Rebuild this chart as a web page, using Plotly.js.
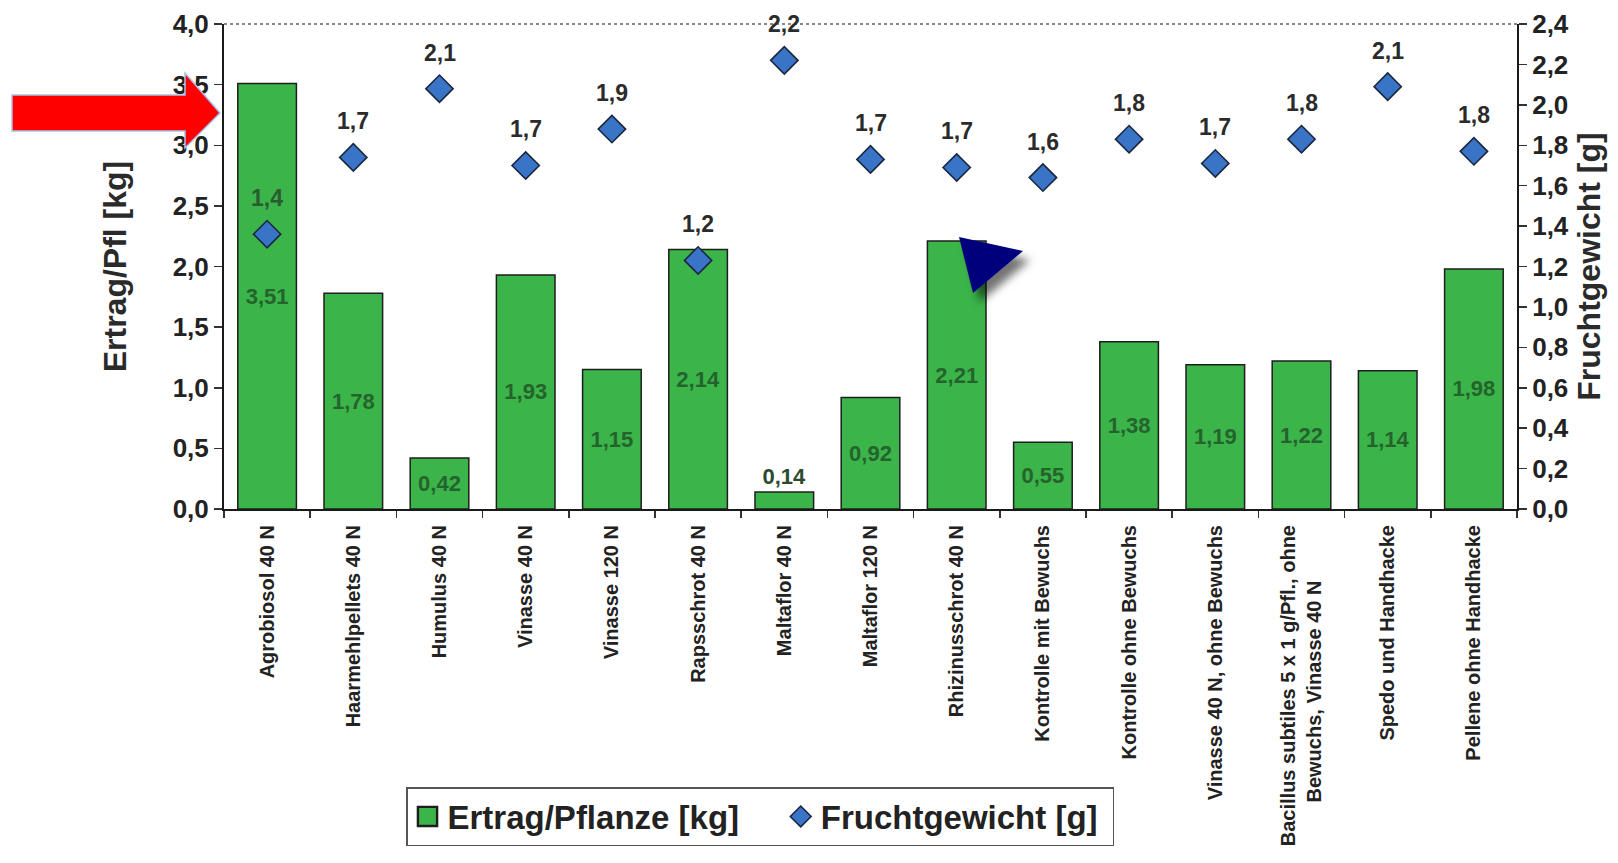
<!DOCTYPE html>
<html>
<head>
<meta charset="utf-8">
<script src="https://cdn.plot.ly/plotly-3.0.1.min.js"></script>
<style>
  html, body { margin: 0; padding: 0; background: #ffffff; }
  #chart { width: 1618px; height: 863px; }
</style>
</head>
<body>
<div id="chart"></div>
<script>
// Treatments (x categories)
const categories = [
  'Agrobiosol 40 N',
  'Haarmehlpellets 40 N',
  'Humulus 40 N',
  'Vinasse 40 N',
  'Vinasse 120 N',
  'Rapsschrot 40 N',
  'Maltaflor 40 N',
  'Maltaflor 120 N',
  'Rhizinusschrot 40 N',
  'Kontrolle mit Bewuchs',
  'Kontrolle ohne Bewuchs',
  'Vinasse 40 N, ohne Bewuchs',
  'Bacillus subtiles 5 x 1 g/Pfl., ohne<br>Bewuchs, Vinasse 40 N\u00a0\u00a0\u00a0\u00a0\u00a0\u00a0\u00a0\u00a0\u00a0\u00a0',
  'Spedo und Handhacke',
  'Pellene ohne Handhacke'
];

// Yield per plant [kg] (left axis)
const ertragKg = [3.51, 1.78, 0.42, 1.93, 1.15, 2.14, 0.14, 0.92, 2.21, 0.55, 1.38, 1.19, 1.22, 1.14, 1.98];

// Fruit weight [g] (right axis)
const fruchtgewichtG = [1.36, 1.74, 2.08, 1.70, 1.88, 1.23, 2.22, 1.73, 1.69, 1.64, 1.83, 1.71, 1.83, 2.09, 1.77];

const seriesNames = ['Ertrag/Pflanze [kg]', 'Fruchtgewicht [g]'];
const axisTitles = ['Ertrag/Pfl [kg]', 'Fruchtgewicht [g]'];

const FONT = 'Liberation Sans, Arial, Helvetica, sans-serif';
const W = 1618, H = 863;
const M = { l: 224, r: 101, t: 24, b: 354 };
const plotW = W - M.l - M.r, plotH = H - M.t - M.b;
// pixel -> paper helpers for the decorative shapes and legend placement
const px = x => +((x - M.l) / plotW).toFixed(5);
const py = y => +((H - M.b - y) / plotH).toFixed(5);

const LEFT_MAX = 4.0, RIGHT_MAX = 2.4;
const fmt1 = v => v.toFixed(1).replace('.', ',');
const NBSP = '\u00a0';

const barTrace = {
  type: 'bar',
  name: seriesNames[0] + NBSP.repeat(4),
  x: categories,
  y: ertragKg,
  yaxis: 'y',
  marker: { color: '#3bb44a', line: { color: '#1e1e1e', width: 1.5 } },
  texttemplate: '%{y:.2f}',
  textposition: 'auto',
  insidetextanchor: 'middle',
  textangle: 0,
  textfont: { family: FONT, size: 22, weight: 'bold', color: '#25632d' },
  outsidetextfont: { family: FONT, size: 22, weight: 'bold', color: '#2c4a30' },
  hoverinfo: 'x+y'
};

const pointTrace = {
  type: 'scatter',
  mode: 'markers',
  name: seriesNames[1] + NBSP,
  x: categories,
  y: fruchtgewichtG,
  yaxis: 'y2',
  marker: { symbol: 'diamond', size: 21, color: '#3a74c6', line: { color: '#1a2740', width: 1.6 } },
  hoverinfo: 'x+y'
};

// value labels above the diamonds
const pointLabels = fruchtgewichtG.map((v, i) => {
  const overBar = ertragKg[i] / LEFT_MAX * RIGHT_MAX > v + 0.2;
  return {
    x: categories[i], y: v, xref: 'x', yref: 'y2',
    text: fmt1(v), showarrow: false, yshift: 36,
    font: { family: FONT, size: 23, weight: 'bold', color: overBar ? '#2a5c30' : '#2b2b2b' }
  };
});

const shapes = [
  // top frame line
  { type: 'line', xref: 'paper', yref: 'paper', x0: 0, x1: 1, y0: 1, y1: 1,
    line: { color: '#8a8a8a', width: 2, dash: 'dot' } },
  // red arrow pointing at the left axis
  { type: 'path', xref: 'paper', yref: 'paper',
    path: `M${px(12)},${py(95)} L${px(185)},${py(95)} L${px(185)},${py(73)} L${px(220)},${py(113)} ` +
          `L${px(185)},${py(148)} L${px(185)},${py(131)} L${px(12)},${py(131)} Z`,
    fillcolor: '#ff0000', line: { color: '#a9c4e6', width: 1.5 } },
  // navy pointer triangle
  { type: 'path', xref: 'paper', yref: 'paper',
    path: `M${px(959)},${py(237)} L${px(1023)},${py(251)} L${px(973)},${py(293)} Z`,
    fillcolor: '#00007c', line: { width: 0 } }
];

const tickFont = { family: FONT, size: 26, weight: 'bold', color: '#222222' };
const titleFont = { family: FONT, size: 32, weight: 'bold', color: '#2a2a2a' };

const layout = {
  width: W, height: H,
  margin: M,
  paper_bgcolor: '#ffffff',
  plot_bgcolor: '#ffffff',
  separators: ',.',
  font: { family: FONT, color: '#222222' },
  bargap: 0.32,
  showlegend: true,
  legend: {
    orientation: 'h', x: px(406), y: py(787), xanchor: 'left', yanchor: 'top',
    bgcolor: '#ffffff', bordercolor: '#555555', borderwidth: 1.5,
    font: { family: FONT, size: 33, weight: 'bold', color: '#222222' },
    itemwidth: 30, traceorder: 'normal'
  },
  xaxis: {
    type: 'category',
    range: [-0.5, categories.length - 0.5],
    tickangle: -90,
    tickson: 'boundaries',
    ticks: 'outside', ticklen: 7, tickwidth: 1.5, tickcolor: '#333333',
    ticklabelstandoff: 6,
    showline: true, linecolor: '#1a1a1a', linewidth: 2,
    showgrid: false, zeroline: false,
    tickfont: { family: FONT, size: 20, weight: 'bold', color: '#222222' },
    automargin: false
  },
  yaxis: {
    range: [0, LEFT_MAX], dtick: 0.5, tickformat: '.1f',
    ticks: 'outside', ticklen: 8, tickwidth: 1.5, tickcolor: '#333333',
    showline: true, linecolor: '#1a1a1a', linewidth: 2,
    showgrid: false, zeroline: false,
    tickfont: tickFont,
    title: { text: axisTitles[0], font: titleFont, standoff: 36 },
    automargin: false
  },
  yaxis2: {
    overlaying: 'y', side: 'right',
    range: [0, RIGHT_MAX], dtick: 0.2, tickformat: '.1f',
    ticks: 'outside', ticklen: 8, tickwidth: 1.5, tickcolor: '#333333',
    showline: true, linecolor: '#1a1a1a', linewidth: 2,
    showgrid: false, zeroline: false,
    tickfont: tickFont,
    title: { text: axisTitles[1], font: titleFont, standoff: 10 },
    automargin: false
  },
  annotations: pointLabels,
  shapes: shapes
};

Plotly.newPlot('chart', [barTrace, pointTrace], layout, { displayModeBar: false, staticPlot: true }).then(gd => {
  // larger legend swatch for the bar series
  const swatch = gd.querySelector('.legend .traces .legendpoints path');
  if (swatch) {
    const t = swatch.getAttribute('transform') || '';
    swatch.setAttribute('transform', (t + ' scale(1.6)').trim());
  }

  // soft drop shadow under the navy triangle
  const ns = 'http://www.w3.org/2000/svg';
  const svg = gd.querySelector('svg.main-svg');
  let defs = svg.querySelector('defs');
  if (!defs) { defs = document.createElementNS(ns, 'defs'); svg.insertBefore(defs, svg.firstChild); }
  const f = document.createElementNS(ns, 'filter');
  f.setAttribute('id', 'triShadow');
  f.setAttribute('x', '-50%'); f.setAttribute('y', '-50%');
  f.setAttribute('width', '200%'); f.setAttribute('height', '200%');
  const ds = document.createElementNS(ns, 'feDropShadow');
  ds.setAttribute('dx', '7'); ds.setAttribute('dy', '9');
  ds.setAttribute('stdDeviation', '4');
  ds.setAttribute('flood-color', '#000000'); ds.setAttribute('flood-opacity', '0.55');
  f.appendChild(ds); defs.appendChild(f);
  const tri = gd.querySelector('.shapelayer path[data-index="2"]');
  if (tri) tri.setAttribute('filter', 'url(#triShadow)');
});
</script>
</body>
</html>
